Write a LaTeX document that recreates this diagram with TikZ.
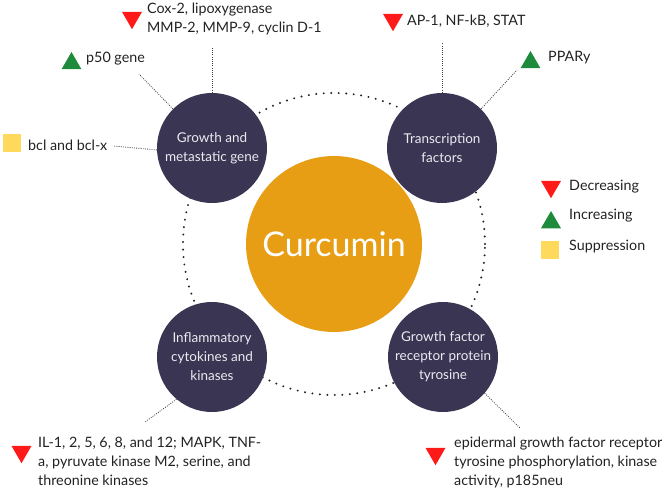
\documentclass[tikz,border=0pt]{standalone}
\usepackage{fontspec}
\setmainfont{Lato}
\usetikzlibrary{shapes.geometric}

\definecolor{curcuma}{HTML}{E89E14}
\definecolor{topicnavy}{HTML}{3A3552}
\definecolor{topictext}{HTML}{ECEBF2}
\definecolor{decred}{HTML}{FF1A1A}
\definecolor{incgreen}{HTML}{1E8A3C}
\definecolor{suppyellow}{HTML}{FFD95C}
\definecolor{labeltext}{HTML}{222222}

\begin{document}
\begin{tikzpicture}[x=1pt, y=-1pt,
        hub/.style={circle, fill=curcuma, minimum size=176pt, inner sep=0pt, text=white, font=\fontsize{34}{40}\selectfont},
        topic/.style={circle, fill=topicnavy, minimum size=110pt, inner sep=0pt, text=topictext, align=center, font=\fontsize{13.5}{19}\selectfont},
        ring/.style={line width=2.2pt, line cap=round, dash pattern=on 0pt off 7.5pt, labeltext},
        leader/.style={line width=0.8pt, dash pattern=on 0.9pt off 1.3pt, black!75},
        decr/.style={regular polygon, regular polygon sides=3, shape border rotate=180, fill=decred, minimum size=23pt, inner sep=0pt},
        incr/.style={regular polygon, regular polygon sides=3, fill=incgreen, minimum size=23pt, inner sep=0pt},
        supp/.style={rectangle, fill=suppyellow, minimum size=18pt, inner sep=0pt},
        lbl/.style={anchor=west, inner sep=0pt, align=left, text=labeltext, font=\fontsize{14.3}{19}\selectfont}]
    \useasboundingbox (0,0) rectangle (668,492);

    \node[hub] (curcumin) at (334,244) {Curcumin};
    \draw[ring] (curcumin.center) circle[radius=151pt];

    \node[topic] (growth) at (212,148) {Growth and\\metastatic gene};
    \node[topic] (tf) at (442,148) {Transcription\\factors};
    \node[topic] (infl) at (212,357) {Inflammatory\\cytokines and\\kinases};
    \node[topic] (gfr) at (443,357) {Growth factor\\receptor protein\\tyrosine};

    % growth and metastatic gene
    \node[decr] (coxmark) at (132,17.7) {};
    \node[lbl] (cox) at (147,19) {Cox-2, lipoxygenase\\MMP-2, MMP-9, cyclin D-1};
    \node[incr] (p50mark) at (71.5,63.5) {};
    \node[lbl] (p50) at (86,59) {p50 gene};
    \node[supp] (bclmark) at (12,143) {};
    \node[lbl] (bcl) at (28,145) {bcl and bcl-x};
    \coordinate (coxend) at (212,47);
    \coordinate (p50end) at (139,74);
    \coordinate (bclend) at (113,146);
    \draw[leader] (growth.north) -- (coxend);
    \draw[leader] (growth.135) -- (p50end);
    \draw[leader] (growth.182) -- (bclend);

    % transcription factors
    \node[decr] (apmark) at (393,19.7) {};
    \node[lbl] (ap) at (407,21) {AP-1, NF-kB, STAT};
    \node[incr] (pparmark) at (530.5,62.5) {};
    \node[lbl] (ppar) at (548,58) {PPARy};
    \coordinate (apend) at (442,43);
    \coordinate (pparend) at (517,70);
    \draw[leader] (tf.north) -- (apend);
    \draw[leader] (tf.45) -- (pparend);

    % inflammatory cytokines and kinases
    \node[decr] (ilmark) at (21.5,451.7) {};
    \node[lbl] (il) at (38,461) {IL-1, 2, 5, 6, 8, and 12; MAPK, TNF-\\a, pyruvate kinase M2, serine, and\\threonine kinases};
    \coordinate (ilend) at (145,422);
    \draw[leader] (infl.230) -- (ilend);

    % growth factor receptor protein tyrosine
    \node[decr] (egfmark) at (435.5,453.7) {};
    \node[lbl] (egf) at (454,462) {epidermal growth factor receptor\\tyrosine phosphorylation, kinase\\activity, p185neu};
    \coordinate (egfend) at (520,428);
    \draw[leader] (gfr.-41) -- (egfend);

    % legend
    \node[decr] (legdecr) at (551,186.7) {};
    \node[lbl] (legdecrtxt) at (569,187) {Decreasing};
    \node[incr] (legincr) at (551,222.5) {};
    \node[lbl] (legincrtxt) at (569,216) {Increasing};
    \node[supp] (legsupp) at (550,249.5) {};
    \node[lbl] (legsupptxt) at (569,247) {Suppression};
\end{tikzpicture}
\end{document}
